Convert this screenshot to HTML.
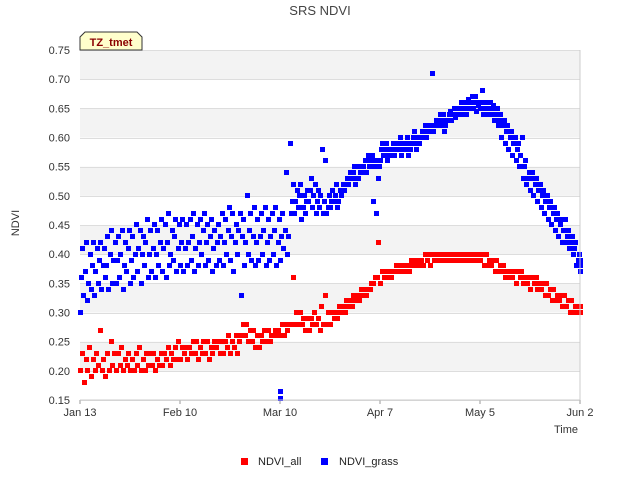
<!DOCTYPE html>
<html><head><meta charset="utf-8"><style>body{margin:0;background:#fff}svg{font-family:"Liberation Sans",sans-serif}</style></head>
<body>
<svg id="c" width="640" height="480" xmlns="http://www.w3.org/2000/svg">
<text x="320" y="15" text-anchor="middle" font-size="13" fill="#444">SRS NDVI</text>
<text x="19" y="223" text-anchor="middle" font-size="11" fill="#333" transform="rotate(-90 19 223)">NDVI</text>
<text x="578" y="433" text-anchor="end" font-size="11" fill="#333">Time</text>
<g id="bands"></g><g id="grid"></g><g id="ticks"></g><g id="pts"></g>
<line x1="580" y1="50" x2="580" y2="400" stroke="#ccc"/>
<line x1="80" y1="400" x2="580" y2="400" stroke="#ccc"/>
<g>
<path d="M80,50 L80,37 L85,32 L137,32 L142,37 L142,50 Z" fill="#ffffcc" stroke="#333"/>
<text x="111" y="46" text-anchor="middle" font-size="11" font-weight="bold" fill="#8b0000">TZ_tmet</text></g>
<g>
<rect x="241" y="458" width="7" height="7" fill="#f00"/>
<text x="258" y="465" font-size="11" fill="#222">NDVI_all</text>
<rect x="321" y="458" width="7" height="7" fill="#00f"/>
<text x="339" y="465" font-size="11" fill="#222">NDVI_grass</text></g>
</svg>
<script>
const yTicks=[0.15,0.20,0.25,0.30,0.35,0.40,0.45,0.50,0.55,0.60,0.65,0.70,0.75];
const xTickLabels=["Jan 13","Feb 10","Mar 10","Apr 7","May 5","Jun 2"];
const xTickDays=[0,28,56,84,112,140];
const grassLo=[.30,.33,.32,.34,.33,.35,.34,.36,.34,.35,.35,.36,.34,.37,.35,.36,.37,.35,.38,.36,.37,.36,.38,.37,.36,.38,.39,.37,.38,.37,.38,.39,.37,.38,.40,.38,.39,.37,.38,.39,.38,.40,.39,.37,.40,.33,.38,.40,.39,.38,.39,.40,.38,.39,.40,.38,.39,.41,.40,.47,.47,.48,.46,.47,.49,.48,.47,.48,.47,.47,.48,.49,.48,.50,.51,.52,.53,.52,.53,.54,.54,.55,.49,.47,.56,.57,.56,.57,.57,.58,.57,.58,.57,.59,.58,.59,.60,.60,.61,.61,.62,.62,.61,.63,.63,.635,.64,.64,.64,.65,.65,.645,.65,.64,.64,.64,.63,.62,.60,.59,.58,.57,.56,.55,.53,.52,.51,.50,.49,.48,.47,.46,.45,.44,.43,.42,.42,.41,.40,.38,.37];
const grassMid=[.36,.37,.35,.38,.37,.39,.38,.38,.40,.39,.39,.40,.38,.41,.39,.40,.41,.40,.42,.40,.41,.40,.42,.41,.42,.40,.43,.41,.42,.41,.42,.43,.41,.42,.44,.42,.43,.41,.42,.43,.42,.44,.43,.42,.44,.43,.42,.44,.43,.42,.43,.44,.42,.43,.44,.42,.43,.44,.43,.49,.49,.50,.48,.49,.51,.50,.49,.50,.49,.48,.49,.50,.49,.51,.52,.53,.54,.53,.54,.55,.56,.56,.55,.53,.58,.58,.57,.58,.58,.59,.58,.59,.58,.60,.59,.60,.61,.61,.62,.62,.63,.63,.62,.64,.64,.64,.65,.65,.65,.66,.66,.655,.66,.65,.65,.65,.64,.63,.62,.61,.60,.59,.58,.57,.55,.53,.53,.52,.51,.50,.49,.48,.47,.46,.45,.44,.43,.42,.41,.39,.38];
const grassHi=[.41,.42,.40,.42,.41,.42,.41,.43,.44,.42,.43,.44,.42,.44,.43,.45,.44,.43,.46,.44,.45,.44,.46,.45,.47,.44,.46,.45,.46,.45,.46,.47,.45,.46,.47,.45,.46,.44,.45,.47,.46,.48,.47,.45,.47,.46,.50,.47,.48,.46,.47,.48,.46,.47,.48,.46,.47,.54,.59,.52,.51,.52,.50,.51,.53,.52,.51,.58,.56,.50,.51,.52,.51,.52,.53,.54,.55,.55,.55,.56,.57,.57,.56,.55,.59,.59,.58,.59,.59,.60,.59,.60,.59,.61,.60,.61,.62,.62,.71,.63,.64,.64,.63,.645,.65,.65,.66,.66,.665,.67,.67,.66,.68,.66,.66,.655,.65,.64,.63,.62,.61,.60,.59,.60,.56,.54,.54,.53,.52,.51,.50,.49,.48,.47,.46,.46,.44,.43,.42,.40,.39];
const grassOutDays=[56,56];
const grassOutVals=[0.165,0.152];
const allLo=[.20,.18,.20,.19,.20,.21,.20,.19,.20,.21,.20,.21,.20,.21,.20,.20,.21,.20,.20,.21,.21,.20,.21,.21,.22,.21,.22,.22,.22,.23,.22,.23,.23,.22,.23,.23,.22,.23,.24,.23,.23,.24,.23,.24,.23,.26,.26,.25,.25,.24,.24,.25,.25,.25,.26,.26,.26,.26,.27,.28,.28,.28,.28,.27,.27,.28,.28,.27,.28,.28,.28,.29,.29,.30,.30,.31,.31,.32,.32,.33,.33,.34,.35,.36,.35,.36,.36,.36,.37,.37,.37,.37,.37,.38,.38,.38,.38,.39,.38,.39,.39,.39,.39,.39,.39,.39,.39,.39,.39,.39,.39,.39,.39,.38,.38,.38,.37,.37,.37,.36,.36,.36,.35,.36,.35,.35,.34,.35,.34,.34,.33,.33,.32,.32,.32,.31,.31,.30,.30,.30,.30];
const allHi=[.23,.22,.24,.22,.23,.27,.22,.23,.25,.23,.23,.24,.22,.23,.22,.23,.24,.22,.23,.23,.23,.22,.23,.23,.24,.23,.24,.25,.24,.24,.24,.25,.25,.24,.25,.25,.24,.25,.25,.25,.25,.26,.25,.26,.25,.28,.28,.27,.27,.26,.26,.27,.27,.26,.27,.27,.28,.28,.28,.36,.30,.30,.29,.29,.29,.30,.29,.31,.33,.30,.30,.30,.31,.31,.32,.32,.33,.33,.34,.34,.34,.35,.36,.42,.37,.37,.37,.37,.38,.38,.38,.38,.39,.39,.39,.39,.40,.40,.40,.40,.40,.40,.40,.40,.40,.40,.40,.40,.40,.40,.40,.40,.40,.40,.39,.39,.39,.38,.38,.37,.37,.37,.37,.37,.36,.36,.36,.36,.35,.35,.35,.34,.34,.33,.33,.33,.32,.32,.31,.31,.31];

const NS="http://www.w3.org/2000/svg";
const X0=80,X1=580,Y0=400,Y1=50,D=140,V0=0.15,V1=0.75;
function xs(d){return X0+(d/D)*(X1-X0);}
function ys(v){return Y0-(v-V0)/(V1-V0)*(Y0-Y1);}
function mk(tag,attrs,parent){const e=document.createElementNS(NS,tag);for(const k in attrs)e.setAttribute(k,attrs[k]);parent.appendChild(e);return e;}
const bands=document.getElementById('bands'),grid=document.getElementById('grid'),ticks=document.getElementById('ticks'),pts=document.getElementById('pts');
for(let i=0;i<yTicks.length-1;i++){
  if(i%2===1){const r=mk('rect',{x:X0,y:ys(yTicks[i+1]),width:X1-X0,height:ys(yTicks[i])-ys(yTicks[i+1]),fill:'#f3f3f3'},bands);
  
  }
}
yTicks.forEach(v=>{
  const y=Math.round(ys(v))+0.5;
  const l=mk('line',{x1:X0,x2:X1,y1:y,y2:y,stroke:'#ddd'},grid);
  
  
  const t=mk('text',{x:X0-10,y:ys(v)+4,'text-anchor':'end','font-size':11,fill:'#333'},ticks);
  t.textContent=v.toFixed(2);
  
  
});
xTickDays.forEach((d,i)=>{
  const l=mk('line',{x1:xs(d),x2:xs(d),y1:Y0,y2:Y0+4,stroke:'#999'},ticks);
  
  
  const t=mk('text',{x:xs(d),y:Y0+16,'text-anchor':'middle','font-size':11,fill:'#333'},ticks);
  t.textContent=xTickLabels[i];
  
  
});
function pt(d,v,c,name){const r=mk('rect',{x:Math.round(xs(d)-2.5),y:Math.round(ys(v)-2.5),width:5,height:5,fill:c},pts);
  
  }
allLo.forEach((v,i)=>pt(Math.min(i+0.2,D),v,'#f00','point-ndvi-all'));
allHi.forEach((v,i)=>pt(Math.min(i+0.7,D),v,'#f00','point-ndvi-all'));
grassLo.forEach((v,i)=>pt(Math.min(i+0.1,D),v,'#00f','point-ndvi-grass'));
grassMid.forEach((v,i)=>pt(Math.min(i+0.45,D),v,'#00f','point-ndvi-grass'));
grassHi.forEach((v,i)=>pt(Math.min(i+0.8,D),v,'#00f','point-ndvi-grass'));
grassOutDays.forEach((d,i)=>pt(d,grassOutVals[i],'#00f','point-ndvi-grass'));
</script>
</body></html>
